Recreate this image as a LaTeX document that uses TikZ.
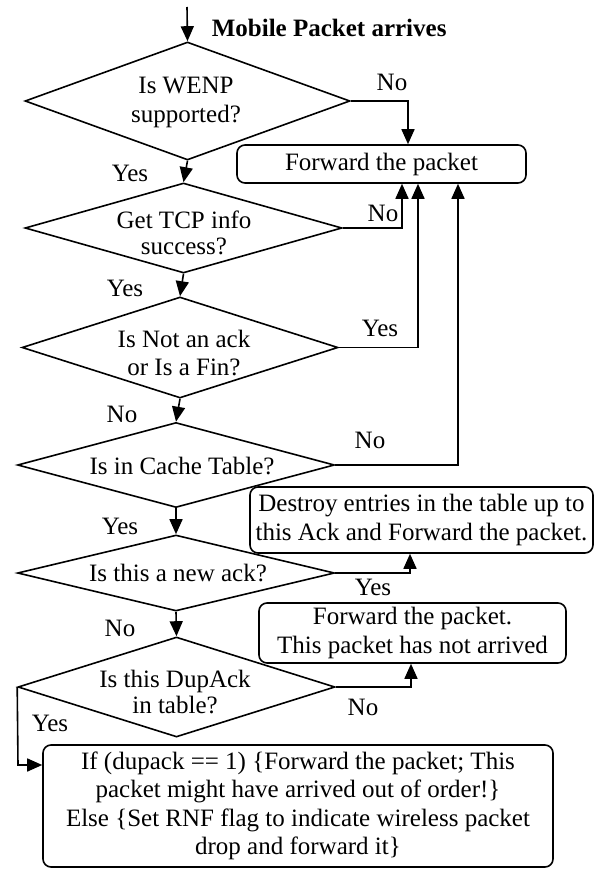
\documentclass[tikz,border=0pt]{standalone}
\usepackage{fontspec}
\setmainfont{Liberation Serif}
\usetikzlibrary{shapes.geometric,arrows.meta}
\begin{document}
\begin{tikzpicture}[x=1pt,y=-1pt,line width=1.6pt,
  every node/.style={font=\fontsize{25}{28.5}\selectfont, inner sep=0pt},
  dia/.style 2 args={draw,diamond,minimum width=#1,minimum height=#2},
  box/.style 2 args={draw,rounded corners=8pt,minimum width=#1,minimum height=#2,align=center},
  txt/.style={align=center},
  arr/.style={-{Triangle[length=15pt,width=13pt]}}]
\useasboundingbox (0,0) rectangle (598,869);

% title
\node[font=\fontsize{25}{28.5}\selectfont\bfseries, anchor=west] (title) at (211,28) {Mobile Packet arrives};

% decisions
\node[dia={325pt}{118pt}] (d1) at (187.5,101) {};
\node[txt] (d1t) at (186,102.5) {Is WENP\\supported?};
\node[dia={317pt}{90pt}] (d2) at (183.5,228) {};
\node[txt] (d2t) at (184,233) {Get TCP info\\[-2pt]success?};
\node[dia={316pt}{101pt}] (d3) at (180,347.5) {};
\node[txt] (d3t) at (184,353) {Is Not an ack\\or Is a Fin?};
\node[dia={317pt}{85pt}] (d4) at (176,465) {};
\node[txt] (d4t) at (182,466) {Is in Cache Table?};
\node[dia={317pt}{76pt}] (d5) at (176,573) {};
\node[txt] (d5t) at (178,573) {Is this a new ack?};
\node[dia={317pt}{100pt}] (d6) at (176.5,687) {};
\node[txt] (d6t) at (175,692) {Is this DupAck\\[-2pt]in table?};

% process boxes
\node[box={289pt}{38pt}] (b1) at (381.5,164) {Forward the packet};
\node[box={343pt}{66pt}] (b2) at (421.5,520) {Destroy entries in the table up to\\this Ack and Forward the packet.};
\node[box={307pt}{60pt}] (b3) at (412.5,633) {Forward the packet.\\This packet has not arrived};
\node[box={510pt}{122pt}] (b4) at (298,806) {If (dupack == 1) \{Forward the packet; This\\packet might have arrived out of order!\}\\Else \{Set RNF flag to indicate wireless packet\\drop and forward it\}};

% connectors
\coordinate (start) at (187,7);
\draw[arr] (start) -- (d1.north);
\draw[arr] (d1.south) -- (d2.north);
\draw[arr] (d2.south) -- (d3.north);
\draw[arr] (d3.south) -- (d4.north);
\draw[arr] (d4.south) -- (d5.north);
\draw[arr] (d5.south) -- (d6.north);

\coordinate (c1) at (408,101);
\draw[arr] (d1.east) -- (c1) -- (c1 |- b1.north);
\coordinate (c2) at (402,228);
\draw[arr] (d2.east) -- (c2) -- (c2 |- b1.south);
\coordinate (c3) at (418,347.5);
\draw[arr] (d3.east) -- (c3) -- (c3 |- b1.south);
\coordinate (c4) at (458,465);
\draw[arr] (d4.east) -- (c4) -- (c4 |- b1.south);
\coordinate (c5) at (410,573);
\draw[arr] (d5.east) -- (c5) -- (c5 |- b2.south);
\coordinate (c6) at (411,687);
\draw[arr] (d6.east) -- (c6) -- (c6 |- b3.south);
\coordinate (c7) at (18,765);
\draw[arr] (d6.west) -- (c7) -- (c7 -| b4.west);

% labels
\node (l1) at (392,82) {No};
\node (l2) at (130,173) {Yes};
\node (l3) at (383,213) {No};
\node (l4) at (125,288) {Yes};
\node (l5) at (380,328) {Yes};
\node (l6) at (122,414) {No};
\node (l7) at (370,440) {No};
\node (l8) at (120,526) {Yes};
\node (l9) at (373,587) {Yes};
\node (l10) at (120,628) {No};
\node (l11) at (363,707) {No};
\node (l12) at (50,723) {Yes};
\end{tikzpicture}
\end{document}
